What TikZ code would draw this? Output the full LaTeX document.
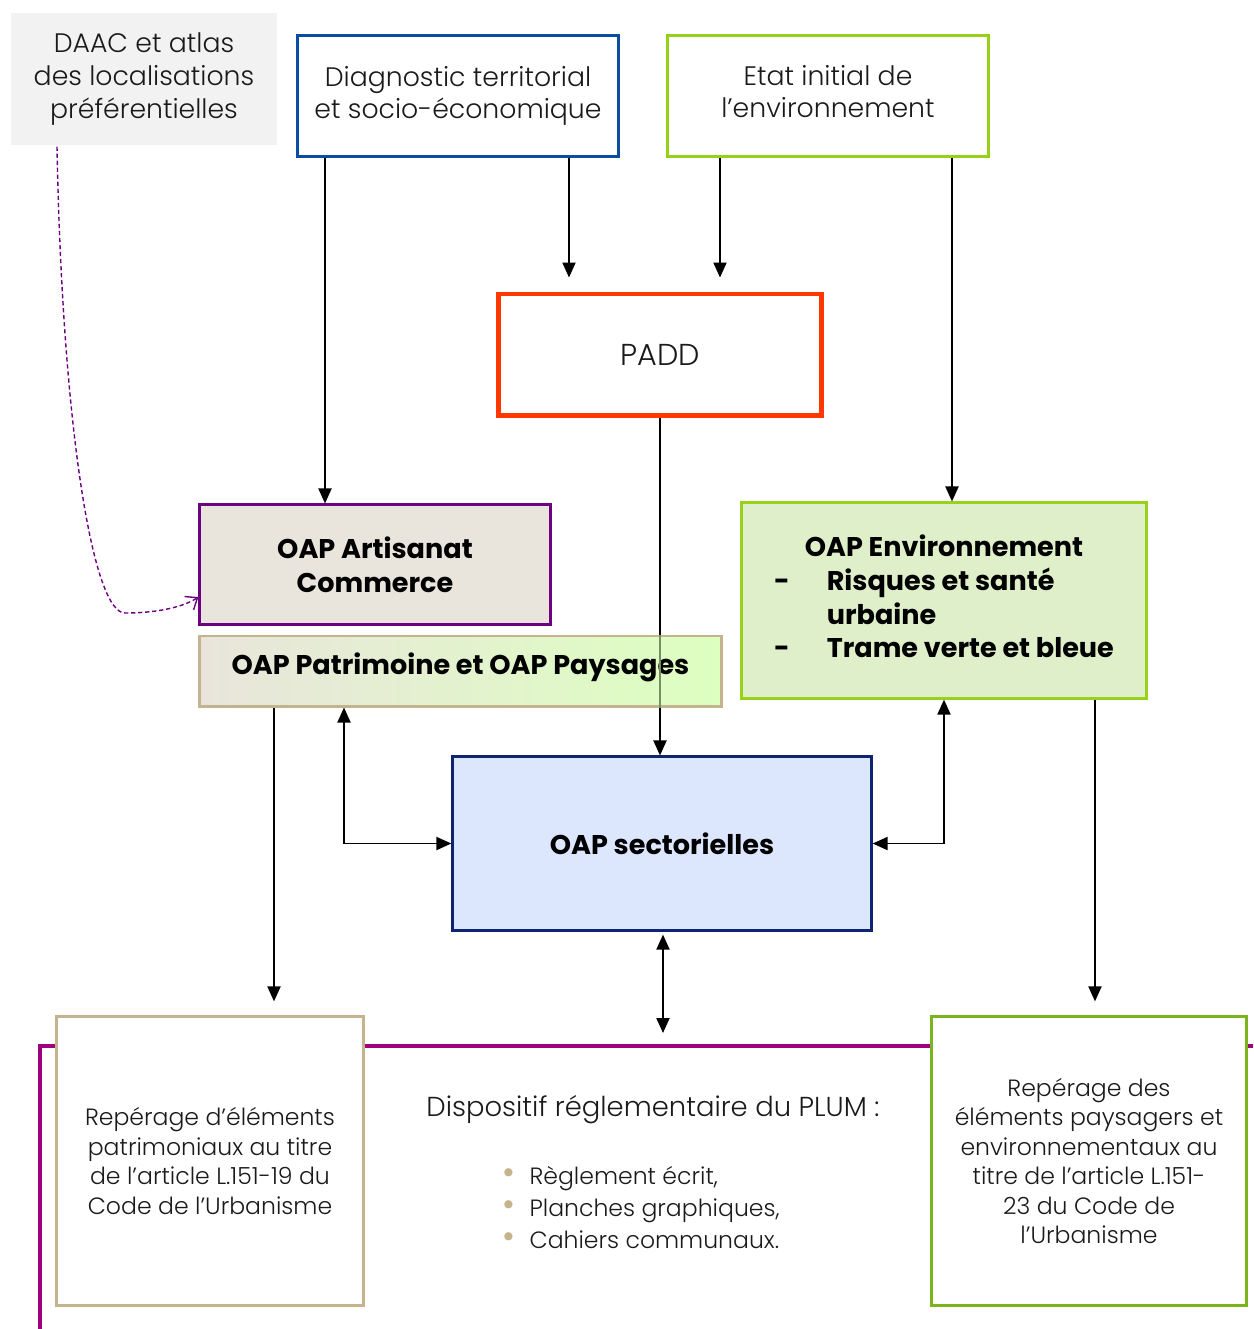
\documentclass[tikz,border=0pt]{standalone}
\usepackage{fontspec}
\setmainfont{Poppins}[UprightFont=* Light,BoldFont=* Bold]
\usetikzlibrary{arrows.meta,positioning}
\definecolor{diagblue}{RGB}{11,77,162}
\definecolor{etatgreen}{RGB}{150,208,24}
\definecolor{paddred}{RGB}{255,56,0}
\definecolor{artispurple}{RGB}{108,0,128}
\definecolor{artisfill}{RGB}{233,229,220}
\definecolor{tanc}{RGB}{196,180,141}
\definecolor{patrigreen}{RGB}{221,255,192}
\definecolor{envfill}{RGB}{222,239,201}
\definecolor{envgreen}{RGB}{153,210,28}
\definecolor{sectblue}{RGB}{14,36,115}
\definecolor{sectfill}{RGB}{220,230,253}
\definecolor{repgreen}{RGB}{122,181,29}
\definecolor{plum}{RGB}{160,0,126}
\definecolor{daacgray}{RGB}{242,242,242}
\definecolor{txt}{RGB}{26,26,26}
\definecolor{overline}{RGB}{120,140,100}

\begin{document}
\begin{tikzpicture}[x=0.01cm,y=-0.01cm,
  box/.style={draw, line width=0.85pt, align=center, inner sep=0pt, text=txt,
    font=\fontsize{7.6}{9.1}\selectfont},
  bbox/.style={box, font=\fontsize{7.7}{9.6}\selectfont\bfseries, text=black},
  repbox/.style={box, fill=white, minimum height=2.88cm, font=\fontsize{6.7}{8.35}\selectfont},
  arr/.style={line width=0.55pt, -{Triangle[length=1.5mm,width=1.3mm]}},
  dblarr/.style={line width=0.55pt, {Triangle[length=1.5mm,width=1.3mm]}-{Triangle[length=1.5mm,width=1.3mm]}}]
\useasboundingbox (0,0) rectangle (1253,1329);

% cadre du dispositif reglementaire
\draw[plum, line width=1.1pt] (40,1329) -- (40,1046) -- (1253,1046);

% sources
\node[box, draw=none, fill=daacgray, minimum width=2.66cm, minimum height=1.32cm,
  font=\fontsize{7.6}{9.3}\selectfont] (daac) at (144,79) {DAAC et atlas\\des localisations\\préférentielles};
\node[box, draw=diagblue, minimum width=3.2cm, minimum height=1.2cm] (diag) at (458,96) {Diagnostic territorial\\et socio-économique};
\node[box, draw=etatgreen, minimum width=3.2cm, minimum height=1.2cm, text depth=2.4pt] (etat) at (828,96) {Etat initial de\\l’environnement};
\node[box, draw=paddred, line width=1.4pt, minimum width=3.22cm, minimum height=1.21cm,
  font=\fontsize{8.6}{10}\selectfont] (padd) at (660,354.5) {PADD};

% OAP
\node[bbox, draw=artispurple, fill=artisfill, minimum width=3.5cm, minimum height=1.19cm] (artis) at (375,564.5) {OAP Artisanat\\Commerce};
\node[bbox, draw=tanc, left color=artisfill, right color=patrigreen, minimum width=5.21cm, minimum height=0.7cm,
  text depth=4pt] (patri) at (460.5,671) {OAP Patrimoine et OAP Paysages};
\node[bbox, draw=envgreen, fill=envfill, minimum width=4.04cm, minimum height=1.95cm] (envir) at (944,600.5)
  {\begin{tabular}{@{}l@{\hspace{0.37cm}}l@{}}
  \multicolumn{2}{c}{OAP Environnement}\\
  - & Risques et santé\\
    & urbaine\\
  - & Trame verte et bleue
  \end{tabular}};
\node[bbox, draw=sectblue, fill=sectfill, minimum width=4.18cm, minimum height=1.73cm] (sect) at (662,843.5) {OAP sectorielles};

% reperages
\node[repbox, draw=tanc, minimum width=3.06cm] (repl) at (210,1161) {Repérage d’éléments\\patrimoniaux au titre\\de l’article L.151-19 du\\Code de l’Urbanisme};
\node[repbox, draw=repgreen, minimum width=3.14cm] (repr) at (1089,1161) {Repérage des\\éléments paysagers et\\environnementaux au\\titre de l’article L.151-\\23 du Code de\\l’Urbanisme};

% dispositif
\coordinate (plumtop) at (663,1046);
\node[text=txt, font=\fontsize{7.8}{9.4}\selectfont] (plumtxt) at (653,1110) {Dispositif réglementaire du PLUM :};
\node[text=txt, anchor=west, align=left, inner sep=0pt, font=\fontsize{6.7}{9.1}\selectfont] (plumlist) at (502,1208)
  {{\color{tanc}\fontsize{10}{9}\selectfont•}\hspace{0.14cm}Règlement écrit,\\
   {\color{tanc}\fontsize{10}{9}\selectfont•}\hspace{0.14cm}Planches graphiques,\\
   {\color{tanc}\fontsize{10}{9}\selectfont•}\hspace{0.14cm}Cahiers communaux.};

% fleches
\draw[arr] (diag.south -| 325,0) -- (artis.north -| 325,0);
\draw[arr, shorten >=0.14cm] (diag.south -| 569,0) -- (padd.north -| 569,0);
\draw[arr, shorten >=0.14cm] (etat.south -| 720,0) -- (padd.north -| 720,0);
\draw[arr] (etat.south -| 952,0) -- (envir.north -| 952,0);
\draw[arr] (padd.south) -- (sect.north -| padd.south);
\draw[overline, line width=0.55pt] (patri.north -| padd.south) -- (patri.south -| padd.south);
\draw[dblarr] (patri.south -| 344,0) |- (sect.west);
\draw[dblarr] (envir.south) |- (sect.east);
\draw[arr, shorten >=0.14cm] (patri.south -| 274,0) -- (repl.north -| 274,0);
\draw[arr, shorten >=0.14cm] (envir.south -| 1095,0) -- (repr.north -| 1095,0);
\draw[dblarr, shorten >=0.13cm, shorten <=0.03cm] (sect.south -| plumtop) -- (plumtop);
\draw[artispurple, line width=0.4pt, dashed, dash pattern=on 1.2pt off 0.8pt, -{Straight Barb[length=1mm,width=1.6mm]}]
  (daac.south -| 57,0) .. controls (62,420) and (92,613) .. (125,613)
  .. controls (160,613) and (185,606) .. (artis.west |- 0,597);
\end{tikzpicture}
\end{document}
